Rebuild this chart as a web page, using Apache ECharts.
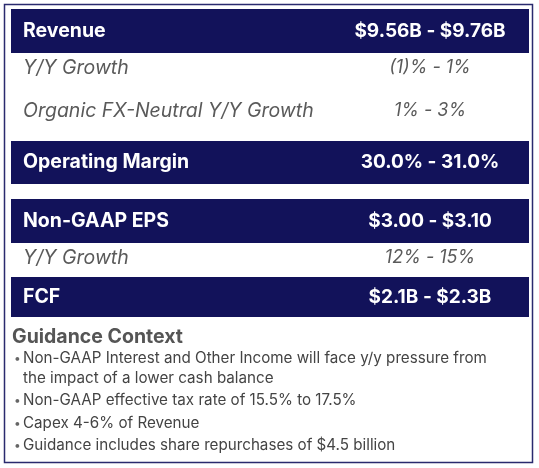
<!DOCTYPE html>
<html>
<head>
<meta charset="utf-8">
<script src="https://cdn.jsdelivr.net/npm/echarts@6/dist/echarts.min.js"></script>
<style>
  html, body { margin: 0; padding: 0; background: #ffffff; }
  #main { width: 539px; height: 468px; }
</style>
</head>
<body>
<div id="main"></div>
<script>
// 表格数据
var rowLabels = ['Revenue', 'Y/Y Growth', 'Organic FX-Neutral Y/Y Growth', 'Operating Margin', 'Non-GAAP EPS', 'Y/Y Growth', 'FCF'];
var rowValues = ['$9.56B - $9.76B', '(1)% - 1%', '1% - 3%', '30.0% - 31.0%', '$3.00 - $3.10', '12% - 15%', '$2.1B - $2.3B'];
var rowKinds = ['head', 'sub', 'sub', 'head', 'head', 'sub', 'head'];

var contextTitle = 'Guidance Context';
var contextBullets = [
  ['Non-GAAP Interest and Other Income will face y/y pressure from', 'the impact of a lower cash balance'],
  ['Non-GAAP effective tax rate of 15.5% to 17.5%'],
  ['Capex 4-6% of Revenue'],
  ['Guidance includes share repurchases of $4.5 billion']
];

// 布局
var rowTop = [9, 0, 0, 141, 199, 0, 277];
var rowHeight = [44, 0, 0, 43, 44, 0, 40];
var rowCenter = [31, 68, 111, 162, 221, 258, 297];
var lineY = [[358, 378], [400], [423], [445]];

var NAVY = '#12125a';
var FONT = 'Inter';

function initial() {
  var chart = echarts.init(document.getElementById('main'), null, { renderer: 'canvas' });
  var els = [];
  //外框
  els.push({
    type: 'rect',
    shape: { x: 4.5, y: 4.5, width: 528, height: 458 },
    style: { fill: '#ffffff', stroke: '#2a2a6e', lineWidth: 1.5 }
  });
  for (var i = 0; i < rowLabels.length; i++) {
    var head = rowKinds[i] === 'head';
    if (head) {
      els.push({
        type: 'rect',
        shape: { x: 11, y: rowTop[i], width: 518, height: rowHeight[i] },
        style: { fill: NAVY }
      });
    }
    els.push({
      type: 'text',
      x: 23, y: rowCenter[i],
      style: {
        text: rowLabels[i],
        fill: head ? '#ffffff' : '#5a5a5a',
        font: head ? 'bold 19.5px ' + FONT : 'italic 19.5px ' + FONT,
        verticalAlign: 'middle', align: 'left'
      }
    });
    els.push({
      type: 'text',
      x: 430, y: rowCenter[i],
      style: {
        text: rowValues[i],
        fill: head ? '#ffffff' : '#5a5a5a',
        font: head ? 'bold 19px ' + FONT : 'italic 18px ' + FONT,
        verticalAlign: 'middle', align: 'center'
      }
    });
  }
  //Guidance Context
  els.push({
    type: 'text',
    x: 12, y: 337,
    style: { text: contextTitle, fill: '#555555', font: 'bold 19.5px ' + FONT, verticalAlign: 'middle' }
  });
  for (var b = 0; b < contextBullets.length; b++) {
    els.push({
      type: 'text',
      x: 14, y: lineY[b][0],
      style: { text: '•', fill: '#666666', font: '12px ' + FONT, verticalAlign: 'middle' }
    });
    for (var l = 0; l < contextBullets[b].length; l++) {
      els.push({
        type: 'text',
        x: 23, y: lineY[b][l],
        style: { text: contextBullets[b][l], fill: '#444444', font: '15.2px ' + FONT, verticalAlign: 'middle' }
      });
    }
  }
  chart.setOption({ animation: false, graphic: { elements: els } });
}

initial();
</script>
</body>
</html>
